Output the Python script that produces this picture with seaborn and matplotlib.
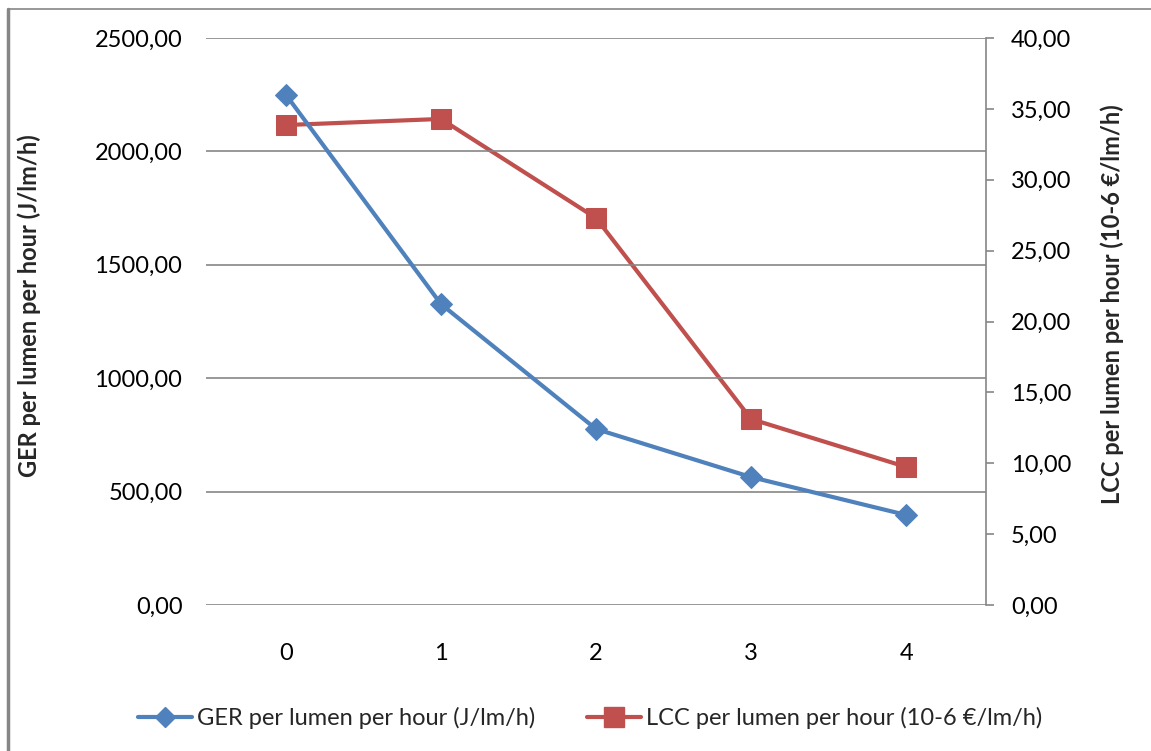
import matplotlib
matplotlib.use("Agg")
import matplotlib.pyplot as plt
import matplotlib.lines as mlines
import seaborn as sns
import numpy as np

categories = [0, 1, 2, 3, 4]
ger_values = [2250, 1327, 776, 564, 397]
lcc_values = [33.86, 34.29, 27.3, 13.12, 9.74]
left_ticks = [0, 500, 1000, 1500, 2000, 2500]
right_ticks = [0, 5, 10, 15, 20, 25, 30, 35, 40]
ger_label = "GER per lumen per hour (J/lm/h)"
lcc_label = "LCC per lumen per hour (10-6 €/lm/h)"

sns.set_theme(style="white")
plt.rcParams['font.family'] = ['Lato', 'DejaVu Sans']

BLUE = "#4F81BD"
RED = "#C0504D"
GRID = "#868686"
FS = 17

fig = plt.figure(figsize=(11.51, 7.51), dpi=100)
fig.patch.set_facecolor("white")
ax = fig.add_axes([206/1151, 1-605/751, (986-206)/1151, (605-38)/751])
ax2 = ax.twinx()

sns.lineplot(x=categories, y=ger_values, ax=ax, color=BLUE, marker="D",
             markersize=11, markeredgecolor=BLUE, linewidth=3, zorder=3)
sns.lineplot(x=categories, y=lcc_values, ax=ax2, color=RED, marker="s",
             markersize=14, markeredgecolor=RED, linewidth=3, zorder=3)

ax.set_xlim(-0.515, 4.515)
ax.set_ylim(0, 2500)
ax2.set_ylim(0, 40)
ax.set_yticks(left_ticks)
ax.set_yticklabels([f"{v:.2f}".replace(".", ",") for v in left_ticks], fontsize=FS)
ax2.set_yticks(right_ticks)
ax2.set_yticklabels([f"{v:.2f}".replace(".", ",") for v in right_ticks], fontsize=FS)
ax.set_xticks(categories)
ax.set_xticklabels([str(c) for c in categories], fontsize=FS)

ax.grid(axis="y", color=GRID, linewidth=1.2)
ax.grid(axis="x", visible=False)
ax2.grid(False)
ax.set_axisbelow(True)

for s in ["left", "top", "right", "bottom"]:
    ax.spines[s].set_visible(False)
    ax2.spines[s].set_visible(False)
ax2.spines["right"].set_visible(True)
ax2.spines["right"].set_color(GRID)
ax2.spines["right"].set_linewidth(1.2)

ax.tick_params(axis="y", length=0, pad=17, labelcolor="black")
ax.tick_params(axis="x", length=0, pad=27, labelcolor="black")
ax2.tick_params(axis="y", length=6, width=1.2, color=GRID, direction="out", pad=12, labelcolor="black")

ax.set_zorder(ax2.get_zorder() + 1)
ax.patch.set_visible(False)
ax.set_ylabel(ger_label, fontsize=FS, fontweight="bold")
ax2.set_ylabel(lcc_label, fontsize=FS, fontweight="bold")
ax.yaxis.set_label_coords(-(206-41)/780, (605-306)/567)
ax2.yaxis.set_label_coords(1 + (1100-986)/780, (605-304)/567)

h1 = mlines.Line2D([], [], color=BLUE, marker="D", markersize=10, linewidth=3)
h2 = mlines.Line2D([], [], color=RED, marker="s", markersize=14, linewidth=3)
fig.legend([h1, h2], [ger_label, lcc_label], loc="center", bbox_to_anchor=(590/1151, 1-718/751),
           ncol=2, frameon=False, fontsize=FS, handlelength=2.3, columnspacing=2.2, handletextpad=0.2)

# chart frame (top and left edges)
fig.add_artist(mlines.Line2D([8/1151, 1], [1-9/751, 1-9/751], transform=fig.transFigure, color=GRID, linewidth=1.2))
fig.add_artist(mlines.Line2D([8/1151, 8/1151], [0, 1-9/751], transform=fig.transFigure, color=GRID, linewidth=2.5))

fig.savefig("out.png", dpi=100, facecolor="white")
